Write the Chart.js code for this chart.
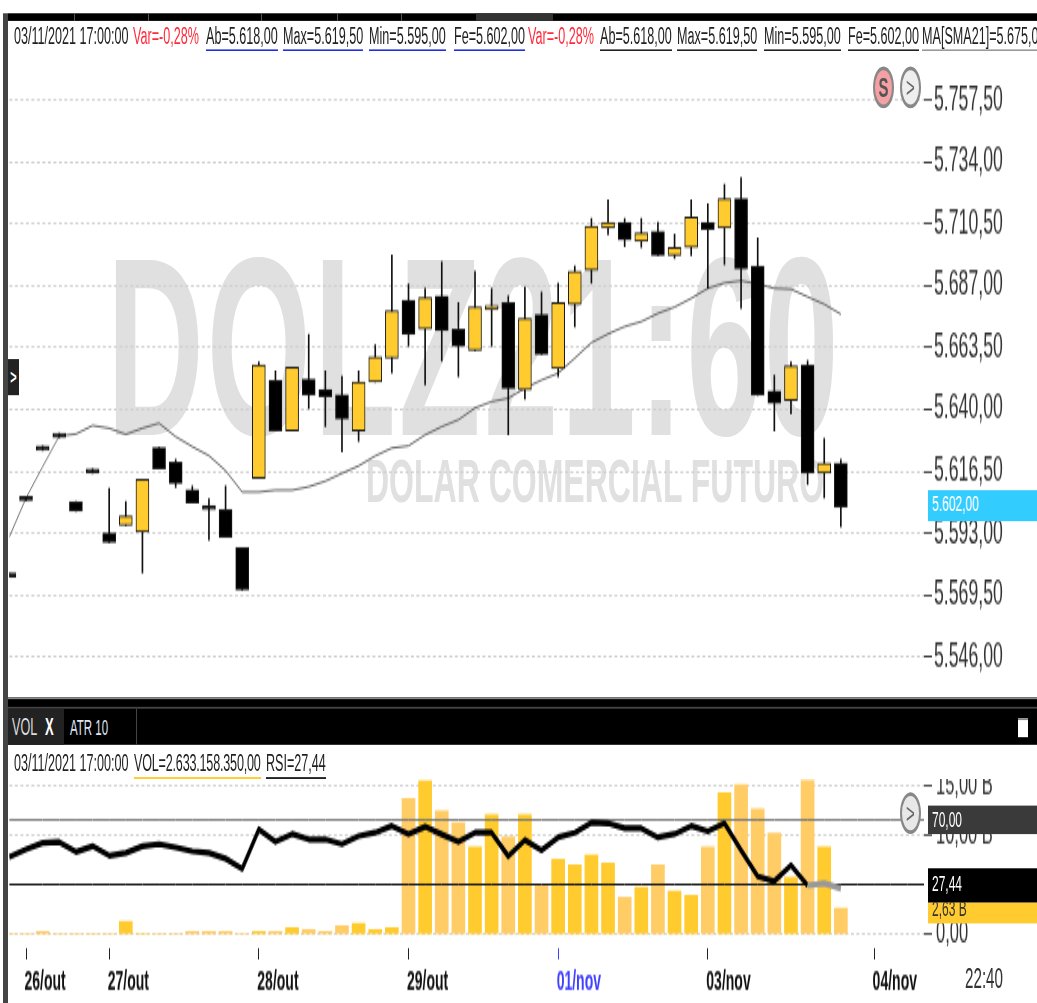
<!DOCTYPE html>
<html>
<head>
<meta charset="utf-8">
<title>DOLZ21:60</title>
<script src="https://cdn.jsdelivr.net/npm/chart.js@4/dist/chart.umd.js"></script>
<style>
  html, body { margin: 0; padding: 0; background: #fff; overflow: hidden; width: 1037px; height: 1003px; }
  /* the whole screen is drawn flat and stretched tall, like the screenshot */
  #screen { position: relative; width: 1037px; height: 528px; overflow: hidden; transform: scaleY(1.9); transform-origin: 0 0;
    filter: blur(0.35px); font-family: "Liberation Sans", sans-serif; font-size: 12.6px; color: #222; }
  #screen > * { position: absolute; }
  canvas { left: 0; z-index: 2; }
  .mark { z-index: 1; color: #e0e0e0; font-weight: bold; white-space: nowrap; }
  .box { z-index: 3; }
  .t { z-index: 3; white-space: nowrap; line-height: 14px; padding-bottom: 0; }
  .u { border-bottom: 1px solid #222; }
  .chip { z-index: 3; left: 928px; width: 109px; overflow: hidden; color: #fff; font-size: 12px; text-indent: 4px; }
  .round { z-index: 3; width: 17px; height: 18px; border: 2px solid #888; border-radius: 50%; text-align: center; line-height: 18px; color: #666; font-size: 15px; }
</style>
</head>
<body>
<div id="screen">
  <div class="mark" style="left:107px;top:calc(221px/1.9);font-size:134px;line-height:134px;letter-spacing:3px">DOLZ21:60</div>
  <div class="mark" style="left:366px;top:calc(450px/1.9);font-size:32px;line-height:32px">DOLAR COMERCIAL FUTURO</div>

  <canvas id="priceChart" width="1037" height="349" style="top:18px"></canvas>
  <canvas id="volumeChart" width="1037" height="118" style="top:410px"></canvas>

  <!-- window frame and top strip -->
  <div class="box" style="left:3px;top:calc(13px/1.9);width:5px;height:calc(990px/1.9);background:#444"></div>
  <div class="box" style="left:8px;top:calc(13px/1.9);width:1029px;height:calc(7px/1.9);background:#000"></div>
  <div class="box" style="left:476px;top:calc(13px/1.9);width:77px;height:calc(7px/1.9);background:#333"></div>
  <div class="box" style="left:74px;top:calc(13px/1.9);width:1px;height:calc(7px/1.9);background:#555"></div>
  <div class="box" style="left:148px;top:calc(13px/1.9);width:1px;height:calc(7px/1.9);background:#555"></div>
  <div class="box" style="left:261px;top:calc(13px/1.9);width:1px;height:calc(7px/1.9);background:#555"></div>
  <div class="box" style="left:337px;top:calc(13px/1.9);width:1px;height:calc(7px/1.9);background:#555"></div>
  <div class="box" style="left:401px;top:calc(13px/1.9);width:1px;height:calc(7px/1.9);background:#555"></div>

  <!-- price pane header -->
  <span class="t" style="left:14px;top:calc(23px/1.9)">03/11/2021 17:00:00</span>
  <span class="t" style="left:133px;top:calc(23px/1.9);color:#ff2b3b">Var=-0,28%</span>
  <span class="t u" style="left:206px;top:calc(23px/1.9);border-color:#2030e0">Ab=5.618,00</span>
  <span class="t u" style="left:283px;top:calc(23px/1.9);border-color:#2030e0">Max=5.619,50</span>
  <span class="t u" style="left:369px;top:calc(23px/1.9);border-color:#2030e0">Min=5.595,00</span>
  <span class="t u" style="left:454px;top:calc(23px/1.9);border-color:#2030e0">Fe=5.602,00</span>
  <span class="t" style="left:528px;top:calc(23px/1.9);color:#ff2b3b">Var=-0,28%</span>
  <span class="t u" style="left:600px;top:calc(23px/1.9)">Ab=5.618,00</span>
  <span class="t u" style="left:677px;top:calc(23px/1.9)">Max=5.619,50</span>
  <span class="t u" style="left:764px;top:calc(23px/1.9)">Min=5.595,00</span>
  <span class="t u" style="left:848px;top:calc(23px/1.9)">Fe=5.602,00</span>
  <span class="t u" style="left:922px;top:calc(23px/1.9);border-color:#999">MA[SMA21]=5.675,00</span>

  <div class="round" style="left:873px;top:calc(66px/1.9);background:#f4a0a4;color:#555;font-weight:bold">S</div>
  <div class="round" style="left:900px;top:calc(66px/1.9);background:#eee">&gt;</div>

  <div class="box" style="left:8px;top:calc(359px/1.9);width:11px;height:calc(36px/1.9);background:#222;color:#fff;font-weight:bold;font-size:11px;line-height:calc(36px/1.9);text-align:center">&gt;</div>

  <div class="chip" style="top:calc(491px/1.9);height:calc(30px/1.9);line-height:calc(30px/1.9);background:#33ccff">5.602,00</div>

  <!-- tab strip between the panes -->
  <div class="box" style="left:8px;top:calc(698px/1.9);width:1029px;height:calc(47px/1.9);background:#000;border-top:1px solid #888;box-sizing:border-box"></div>
  <div class="box" style="left:8px;top:calc(707px/1.9);width:1029px;height:1px;background:#444"></div>
  <div class="box" style="left:8px;top:calc(709px/1.9);width:56px;height:calc(36px/1.9);background:#222"></div>
  <div class="box" style="left:136px;top:calc(709px/1.9);width:1px;height:calc(36px/1.9);background:#444"></div>
  <span class="t" style="left:12px;top:calc(714px/1.9);color:#ddd">VOL</span>
  <span class="t" style="left:45px;top:calc(714px/1.9);color:#fff;font-weight:bold;font-size:13px">X</span>
  <span class="t" style="left:70px;top:calc(714px/1.9);color:#dde6f0;font-size:11.5px">ATR 10</span>
  <div class="box" style="left:1018px;top:calc(719px/1.9);width:10px;height:calc(19px/1.9);background:#fff;border-top:1px solid #888;box-sizing:border-box"></div>

  <!-- lower pane header -->
  <span class="t" style="left:14px;top:calc(750px/1.9)">03/11/2021 17:00:00</span>
  <span class="t u" style="left:134px;top:calc(750px/1.9);border-color:#ffcb2e;letter-spacing:-0.2px">VOL=2.633.158.350,00</span>
  <span class="t u" style="left:266px;top:calc(750px/1.9)">RSI=27,44</span>

  <div class="round" style="left:900px;top:calc(792px/1.9);background:#e8e8e8">&gt;</div>
  <div class="chip" style="top:calc(805px/1.9);height:calc(30px/1.9);line-height:calc(30px/1.9);background:#3a3a3a">70,00</div>
  <div class="chip" style="top:calc(903px/1.9);height:calc(20px/1.9);line-height:calc(13px/1.9);background:#ffcb2e;color:#333">2,63 B</div>
  <div class="chip" style="top:calc(869px/1.9);height:calc(34px/1.9);line-height:calc(34px/1.9);background:#000">27,44</div>

  <span class="t" style="left:965px;top:calc(964px/1.9);font-size:15.2px;line-height:15px;color:#333">22:40</span>
</div>

<script>
// one slot per 60 min candle, the label is set only where a day starts
const categories = [
  "", "26/out", "", "", "", "", "27/out", "", "", "",
  "", "", "", "", "", "28/out", "", "", "", "",
  "", "", "", "", "29/out", "", "", "", "", "",
  "", "", "", "01/nov", "", "", "", "", "", "",
  "", "", "03/nov", "", "", "", "", "", "", "",
  "", "", "04/nov", "", "", "",
];

const opens = [
  5578, 5607, 5626, 5631, 5605, 5617.5, 5593, 5596, 5593.5, 5625.5,
  5620, 5609.5, 5603.5, 5602, 5587.5, 5614, 5651, 5632, 5651.5, 5647.5,
  5645.5, 5632, 5650.5, 5659.5, 5681.5, 5670.5, 5683, 5670.5, 5662.5, 5678,
  5680.5, 5647.5, 5676, 5655.5, 5680, 5693, 5709, 5711, 5704, 5707.5,
  5698.5, 5701.5, 5711, 5709, 5720, 5694.5, 5647, 5643.5, 5657, 5616, 5619.5,
];
const highs = [
  5578, 5607, 5626, 5631, 5605, 5617.5, 5610, 5605, 5613.5, 5625.5,
  5621, 5611, 5606, 5611, 5587.5, 5658, 5654.5, 5656, 5668.5, 5654.5,
  5652.5, 5654.5, 5664.5, 5698.5, 5687.5, 5686, 5696, 5680.5, 5692.5, 5686,
  5683, 5686.5, 5684.5, 5688, 5694.5, 5712.5, 5719.5, 5712.5, 5712.5, 5711,
  5706.5, 5719.5, 5718, 5725.5, 5728, 5705, 5653, 5658, 5658.5, 5629, 5621,
];
const lows = [
  5576.5, 5605.5, 5624.5, 5629.5, 5601.5, 5616, 5589.5, 5596, 5578, 5617.5,
  5610.5, 5604.5, 5590.5, 5591.5, 5571.5, 5614, 5632, 5632, 5640.5, 5633.5,
  5624, 5628, 5650.5, 5654, 5664, 5649.5, 5658.5, 5652.5, 5662.5, 5664,
  5630.5, 5644, 5661, 5652.5, 5671.5, 5688, 5706.5, 5702, 5701.5, 5698.5,
  5697.5, 5698.5, 5686, 5695, 5678.5, 5645.5, 5632, 5638.5, 5611.5, 5606.5, 5595.5,
];
const closes = [
  5576.5, 5605.5, 5624.5, 5629.5, 5601.5, 5616, 5589.5, 5599.5, 5613.5, 5617.5,
  5612, 5604.5, 5602, 5591.5, 5571.5, 5657, 5632, 5656, 5645.5, 5645,
  5636.5, 5650.5, 5660, 5677.5, 5668.5, 5682.5, 5670, 5664, 5679, 5679.5,
  5648, 5674.5, 5661, 5680.5, 5692.5, 5709.5, 5711, 5704.5, 5707, 5698.5,
  5701.5, 5713, 5708.5, 5720, 5693.5, 5645.5, 5642.5, 5656.5, 5616, 5619.5, 5603,
];
const sma21 = [
  5591.7, 5606.4, 5618.3, 5630, 5630.7, 5633.9, 5632.9, 5630.6, 5632.9, 5634.8,
  5629.7, 5625.9, 5622.5, 5616.8, 5608.7, 5608.7, 5609.4, 5609.4, 5610.7, 5612.8,
  5615.8, 5618.6, 5622.4, 5625.4, 5626.2, 5630.4, 5633.5, 5636.1, 5640.6, 5643,
  5644.3, 5648.1, 5651.2, 5653.8, 5659.5, 5665.4, 5668.7, 5671.5, 5673.4, 5676.5,
  5678.9, 5682.2, 5686, 5688.1, 5688.9, 5687.7, 5686, 5685.7, 5682.8, 5680, 5676.2,
];
const priceTicks = [5757.5, 5734, 5710.5, 5687, 5663.5, 5640, 5616.5, 5593, 5569.5, 5546];

// volume in billions
const volumes = [
  0, 0, 0.27, 0, 0, 0, 0, 1.28, 0, 0,
  0, 0.25, 0.25, 0.25, 0, 0.25, 0.25, 0.67, 0.47, 0.27,
  0.87, 1.07, 0.47, 0.67, 13.7, 15.5, 12.47, 11.25, 8.83, 12.06,
  9.84, 12.06, 4.98, 7.58, 6.98, 7.99, 7.18, 3.74, 4.75, 6.98,
  4.35, 3.94, 8.8, 14.29, 15.1, 12.67, 10.21, 5.76, 15.53, 8.8, 2.63,
];
const rsi = [
  47.1, 51.7, 55.8, 56.25, 50.2, 53.75, 47.9, 49.6, 53.75, 55,
  52.9, 50.6, 49.6, 46, 39.8, 64.2, 56.4, 61.25, 57.9, 57.9,
  55, 60, 62.1, 66.25, 61.25, 65.8, 61, 56.4, 62.1, 62.1,
  47.5, 57.5, 51.25, 59.2, 62.1, 68.3, 67.9, 64.8, 64.8, 59.2,
  61.25, 66.25, 62.9, 67.9, 51.25, 35, 32, 41.9, 29.4, 30.8, 27.44,
];
const rsiUpper = 70;
const rsiLower = 30;
const volumeTicks = [15, 10, 0];

const UP = "#ffcb2e";
const DOWN = "#000000";
const VOL_UP = "#ffcb2e";
const VOL_DOWN = "#ffcc66";
const GRID = "#d0d0d0";
const TICK_TEXT = "#333333";
const FONT = "Liberation Sans";

const isUp = closes.map((c, i) => c >= opens[i]);

//Candles
const priceCtx = document.getElementById("priceChart").getContext("2d");
const priceChart = new Chart(priceCtx, {
  type: "bar",
  data: {
    labels: categories,
    datasets: [
      {
        type: "line",
        label: "MA[SMA21]",
        data: sma21,
        borderColor: "#5a5a5a",
        borderWidth: 0.9,
        pointRadius: 0,
        tension: 0,
        order: 3,
      },
      {
        label: "Wicks",
        data: lows.map((l, i) => [l, highs[i]]),
        backgroundColor: "#111111",
        barThickness: 1,
        grouped: false,
        order: 2,
      },
      {
        label: "DOLZ21",
        data: opens.map((o, i) => [o, closes[i]]),
        backgroundColor: isUp.map((u) => (u ? UP : DOWN)),
        borderColor: "#1a1a1a",
        borderWidth: 1,
        borderSkipped: false,
        barThickness: 13,
        grouped: false,
        order: 1,
      },
    ],
  },
  options: {
    responsive: false,
    animation: false,
    devicePixelRatio: 1,
    layout: { padding: { left: 9.4 } },
    plugins: {
      legend: { display: false },
      tooltip: { enabled: false },
    },
    scales: {
      x: {
        display: false,
        offset: false,
      },
      y: {
        position: "right",
        min: 5530.74,
        max: 5782.48,
        border: { display: false, dash: [3, 2.5] },
        grid: { color: GRID, tickColor: "#444444", tickLength: 8, tickBorderDash: [] },
        ticks: {
          autoSkip: false,
          padding: 2,
          color: TICK_TEXT,
          font: { family: FONT, size: 17.7 },
          callback: (v) => v.toLocaleString("pt-BR", { minimumFractionDigits: 2 }),
        },
        afterBuildTicks: (scale) => {
          scale.ticks = priceTicks.map((v) => ({ value: v }));
        },
        afterFit: (scale) => {
          scale.width = 113;
          scale.paddingTop = 0;
          scale.paddingBottom = 0;
        },
      },
    },
  },
});

//Volume and RSI
const volumeCtx = document.getElementById("volumeChart").getContext("2d");
const volumeChart = new Chart(volumeCtx, {
  type: "bar",
  data: {
    labels: categories,
    datasets: [
      {
        type: "line",
        label: "RSI",
        data: rsi,
        yAxisID: "rsi",
        borderColor: "#000000",
        borderWidth: 3.2,
        borderJoinStyle: "round",
        pointRadius: 0,
        tension: 0,
        order: 1,
        segment: {
          // the last stretch under 30 is grey on the platform
          borderColor: (ctx) => (ctx.p0DataIndex >= 48 ? "#999999" : "#000000"),
        },
      },
      {
        type: "line",
        label: "70",
        data: categories.map(() => rsiUpper),
        yAxisID: "rsi",
        borderColor: "#777777",
        borderWidth: 1,
        pointRadius: 0,
        order: 2,
      },
      {
        type: "line",
        label: "30",
        data: categories.map(() => rsiLower),
        yAxisID: "rsi",
        borderColor: "#222222",
        borderWidth: 1,
        pointRadius: 0,
        order: 2,
      },
      {
        label: "VOL",
        data: volumes,
        yAxisID: "y",
        backgroundColor: isUp.map((u) => (u ? VOL_UP : VOL_DOWN)),
        barThickness: 13,
        order: 3,
      },
    ],
  },
  options: {
    responsive: false,
    animation: false,
    devicePixelRatio: 1,
    layout: { padding: { left: 9.4 } },
    plugins: {
      legend: { display: false },
      tooltip: { enabled: false },
    },
    scales: {
      x: {
        offset: false,
        border: { display: false },
        grid: {
          offset: false,
          drawOnChartArea: false,
          tickLength: 6,
          tickColor: (ctx) => (ctx.tick && ctx.tick.label === "01/nov" ? "#4040ff" : "#222222"),
        },
        ticks: {
          autoSkip: false,
          maxRotation: 0,
          align: "start",
          padding: 4,
          labelOffset: -1.5,
          color: (ctx) => (ctx.tick && ctx.tick.label === "01/nov" ? "#4040ff" : "#111111"),
          font: { family: FONT, size: 14, weight: "bold" },
        },
        afterBuildTicks: (scale) => {
          scale.ticks = scale.ticks.filter((t) => categories[t.value]);
        },
        afterFit: (scale) => {
          scale.height = 29;
          scale.paddingLeft = 0;
          scale.paddingRight = 0;
        },
      },
      y: {
        position: "right",
        min: -1.395,
        max: 15.7,
        border: { display: false, dash: [3, 2.5] },
        grid: { color: GRID, tickColor: "#444444", tickLength: 8, tickBorderDash: [] },
        ticks: {
          autoSkip: false,
          padding: 4,
          color: TICK_TEXT,
          font: { family: FONT, size: 16.5 },
          callback: (v) => v.toFixed(2).replace(".", ",") + (v ? " B" : ""),
        },
        afterBuildTicks: (scale) => {
          scale.ticks = volumeTicks.map((v) => ({ value: v }));
        },
        afterFit: (scale) => {
          scale.width = 113;
          scale.paddingTop = 0;
          scale.paddingBottom = 0;
        },
      },
      rsi: {
        axis: "y",
        display: false,
        min: -9.41,
        max: 95.29,
      },
    },
  },
});
</script>
</body>
</html>
